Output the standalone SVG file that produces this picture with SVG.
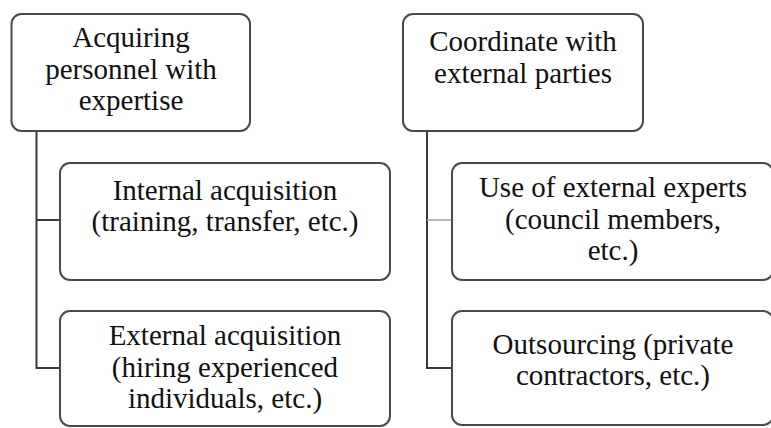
<svg xmlns="http://www.w3.org/2000/svg" width="771" height="428" viewBox="0 0 771 428">
<rect width="771" height="428" fill="#fff"/>
<g id="connectors" fill="none">
<path stroke="#3a3a3a" stroke-width="2" d="M36.5 132 V368 H60 M36.5 220 H60"/>
<path stroke="#3a3a3a" stroke-width="2" d="M427 132 V368 H452"/>
<path stroke="#a0a0a0" stroke-width="1.5" d="M427 220 H452"/>
</g>
<g id="n1">
<rect fill="#fff" stroke="#4a4a4a" stroke-width="2" x="11.5" y="14" width="238.5" height="117" rx="10"/>
<text font-family="Liberation Serif" font-size="29" text-anchor="middle" fill="#111" x="131" y="47">Acquiring</text>
<text font-family="Liberation Serif" font-size="29" text-anchor="middle" fill="#111" x="131" y="78.5">personnel with</text>
<text font-family="Liberation Serif" font-size="29" text-anchor="middle" fill="#111" x="131" y="110">expertise</text>
</g>
<g id="n2">
<rect fill="#fff" stroke="#4a4a4a" stroke-width="2" x="60" y="163" width="330" height="117" rx="10"/>
<text font-family="Liberation Serif" font-size="29" text-anchor="middle" fill="#111" x="225" y="200">Internal acquisition</text>
<text font-family="Liberation Serif" font-size="29" text-anchor="middle" fill="#111" x="225" y="231">(training, transfer, etc.)</text>
</g>
<g id="n3">
<rect fill="#fff" stroke="#4a4a4a" stroke-width="2" x="60" y="311" width="330" height="115" rx="10"/>
<text font-family="Liberation Serif" font-size="29" text-anchor="middle" fill="#111" x="225" y="345">External acquisition</text>
<text font-family="Liberation Serif" font-size="29" text-anchor="middle" fill="#111" x="225" y="376.5">(hiring experienced</text>
<text font-family="Liberation Serif" font-size="29" text-anchor="middle" fill="#111" x="225" y="408">individuals, etc.)</text>
</g>
<g id="n4">
<rect fill="#fff" stroke="#4a4a4a" stroke-width="2" x="403" y="14" width="240" height="117" rx="10"/>
<text font-family="Liberation Serif" font-size="29" text-anchor="middle" fill="#111" x="523" y="51">Coordinate with</text>
<text font-family="Liberation Serif" font-size="29" text-anchor="middle" fill="#111" x="523" y="82.5">external parties</text>
</g>
<g id="n5">
<rect fill="#fff" stroke="#4a4a4a" stroke-width="2" x="452" y="163" width="321" height="117" rx="10"/>
<text font-family="Liberation Serif" font-size="29" text-anchor="middle" fill="#111" x="613" y="197">Use of external experts</text>
<text font-family="Liberation Serif" font-size="29" text-anchor="middle" fill="#111" x="613" y="228.5">(council members,</text>
<text font-family="Liberation Serif" font-size="29" text-anchor="middle" fill="#111" x="613" y="260">etc.)</text>
</g>
<g id="n6">
<rect fill="#fff" stroke="#4a4a4a" stroke-width="2" x="452" y="311" width="321" height="114" rx="10"/>
<text font-family="Liberation Serif" font-size="29" text-anchor="middle" fill="#111" x="613" y="354">Outsourcing (private</text>
<text font-family="Liberation Serif" font-size="29" text-anchor="middle" fill="#111" x="613" y="385">contractors, etc.)</text>
</g>
</svg>
